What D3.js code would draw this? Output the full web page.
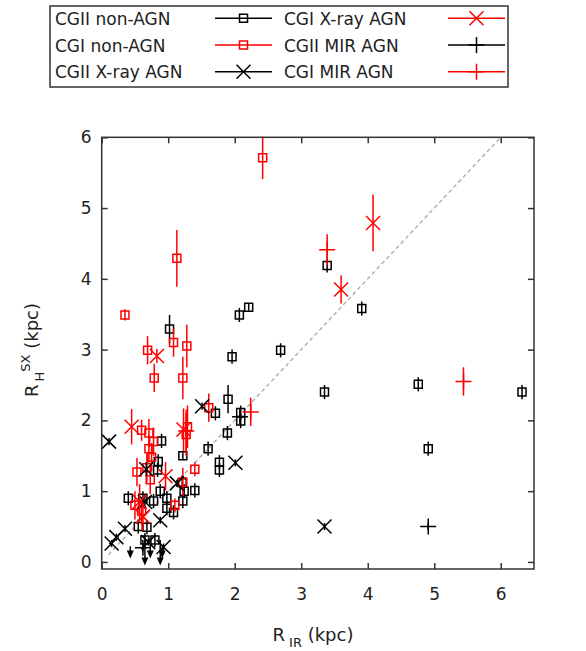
<!DOCTYPE html>
<html><head><meta charset="utf-8">
<script src="https://cdn.jsdelivr.net/npm/d3@7"></script>
<style>body{margin:0;background:#fff}svg{display:block}</style>
</head><body><svg id="c" width="586" height="651"></svg>
<script>
// ---- data ----
const xTicks = [0, 1, 2, 3, 4, 5, 6];
const yTicks = [0, 1, 2, 3, 4, 5, 6];
const seriesNames = ["CGII non-AGN", "CGI non-AGN", "CGII X-ray AGN", "CGI X-ray AGN", "CGII MIR AGN", "CGI MIR AGN"];
// [R_IR, R_H^SX, error]
const cgiiNonAgn = [
  [1.02,3.29,0.2],[2.07,3.49,0.1],[2.21,3.60,0.05],[1.96,2.90,0.1],[2.69,2.99,0.1],
  [3.39,4.19,0.1],[3.91,3.58,0.1],[3.35,2.40,0.1],[4.76,2.51,0.1],[6.32,2.40,0.1],
  [4.91,1.60,0.1],[1.90,2.30,0.2],[1.71,2.10,0.1],[2.09,2.11,0.1],[2.09,1.99,0.1],
  [1.89,1.82,0.1],[1.60,1.60,0.1],[1.22,1.50,0.05],[1.77,1.41,0.1],[1.77,1.30,0.1],
  [1.40,1.01,0.1],[1.24,1.00,0.1],[1.22,0.86,0.1],[0.90,1.71,0.1],[0.85,1.42,0.1],
  [0.84,1.30,0.1],[0.98,0.90,0.1],[0.98,0.76,0.1],[1.08,0.70,0.1],[0.40,0.90,0.1],
  [0.62,0.90,0.1],[0.78,0.86,0.1],[0.55,0.50,0.1],[0.68,0.49,0.1],[0.65,0.31,0.1],
  [0.80,0.31,0.1],[0.88,1.00,0.1],[1.21,1.12,0.1]
];
const cgiNonAgn = [
  [0.35,3.49,0.08],[2.42,5.71,0.3],[1.13,4.29,0.4],[0.69,2.99,0.2],[1.08,3.10,0.2],
  [1.28,3.05,0.3],[0.79,2.60,0.2],[1.22,2.60,0.3],[1.61,2.18,0.2],[0.60,1.86,0.15],
  [0.71,1.82,0.2],[0.78,1.70,0.2],[0.71,1.60,0.2],[0.75,1.48,0.2],[1.29,1.91,0.3],
  [1.27,1.80,0.3],[1.40,1.31,0.1],[0.53,1.27,0.2],[0.73,1.16,0.2],[0.68,1.33,0.2],
  [1.10,0.80,0.1],[1.22,1.13,0.2],[0.50,0.80,0.2],[0.60,0.72,0.2]
];
const cgiiXray = [
  [1.51,2.20,0.05],[2.01,1.40,0.05],[0.11,1.70,0.05],[3.35,0.50,0.05],[0.67,1.31,0.1],
  [1.13,1.11,0.05],[0.65,0.85,0.1],[0.88,0.59,0.05],[0.35,0.47,0.05],[0.22,0.35,0.05],
  [0.15,0.26,0.05],[0.93,0.21,0.05],[0.70,0.28,0.05]
];
const cgiXray = [
  [4.08,4.79,0.4],[3.60,3.85,0.2],[0.83,2.91,0.1],[0.45,1.91,0.25],[1.23,1.87,0.3],
  [0.96,1.21,0.2],[0.57,0.85,0.25],[0.62,0.64,0.2]
];
const cgiiMir = [[4.91,0.50,0.05],[2.08,2.05,0.1],[0.62,0.20,0.05]];
const cgiMir = [[3.39,4.41,0.22],[5.44,2.55,0.2],[2.24,2.12,0.2],[1.27,1.85,0.3]];
// upper limits: [x, y from, y to]
const upperLimits = [[0.43,0.22,0.05],[0.65,0.31,-0.05],[0.73,0.25,0.05],[0.88,0.31,-0.05],[0.91,0.22,0.05]];
const oneToOne = [[0.1,0.1],[6,6]];

// ---- drawing ----
const svg = d3.select("#c");
const W = 586, H = 651;
const x = d3.scaleLinear().domain([0, 6.5]).range([101.7, 534]);
const y = d3.scaleLinear().domain([-0.1, 6]).range([569, 137.3]);
const FONT = "'DejaVu Sans', sans-serif";
const TXT = "#222";

const shapes = {
  square: "M-4,-4h8v8h-8z",
  cross: "M-7,-7L7,7M-7,7L7,-7",
  plus: "M-8,0H8M0,-8V8"
};
const styles = [
  {data: cgiiNonAgn, color: "#000", shape: "square"},
  {data: cgiNonAgn, color: "#f00", shape: "square"},
  {data: cgiiXray, color: "#000", shape: "cross"},
  {data: cgiXray, color: "#f00", shape: "cross"},
  {data: cgiiMir, color: "#000", shape: "plus"},
  {data: cgiMir, color: "#f00", shape: "plus"}
];

// axes (inward ticks, mirrored)
const gx = svg.append("g").attr("transform", `translate(0,${y.range()[0]})`)
  .call(d3.axisBottom(x).tickValues(xTicks).tickSizeInner(-6).tickSizeOuter(0).tickPadding(19).tickFormat(d3.format("d")));
const gy = svg.append("g").attr("transform", `translate(${x.range()[0]},0)`)
  .call(d3.axisLeft(y).tickValues(yTicks).tickSizeInner(-6).tickSizeOuter(0).tickPadding(10).tickFormat(d3.format("d")));
const gx2 = svg.append("g").attr("transform", `translate(0,${y.range()[1]})`)
  .call(d3.axisTop(x).tickValues(xTicks).tickSizeInner(-6).tickSizeOuter(0).tickFormat(""));
const gy2 = svg.append("g").attr("transform", `translate(${x.range()[1]},0)`)
  .call(d3.axisRight(y).tickValues(yTicks).tickSizeInner(-6).tickSizeOuter(0).tickFormat(""));
[gx, gy, gx2, gy2].forEach(g => {
  g.select(".domain").remove();
  g.selectAll(".tick line").attr("stroke", "#333").attr("stroke-width", 1.5);
  g.selectAll(".tick text").attr("fill", TXT).style("font-family", FONT).style("font-size", "17px");
});

// 1:1 line
svg.append("path")
  .attr("d", d3.line().x(d => x(d[0])).y(d => y(d[1]))(oneToOne))
  .attr("stroke", "#a8a8a8").attr("stroke-width", 1.3).attr("stroke-dasharray", "4,3").attr("fill", "none");

// series
styles.forEach(s => {
  const g = svg.append("g").attr("stroke", s.color).attr("fill", "none").attr("stroke-width", 1.5);
  g.selectAll("line.err").data(s.data).join("line").attr("class", "err")
    .attr("x1", d => x(d[0])).attr("x2", d => x(d[0]))
    .attr("y1", d => y(d[1] - d[2])).attr("y2", d => y(d[1] + d[2]));
  g.selectAll("path.mk").data(s.data).join("path").attr("class", "mk")
    .attr("transform", d => `translate(${x(d[0])},${y(d[1])})`)
    .attr("d", shapes[s.shape]);
});

// upper limits (arrows)
const ul = svg.append("g");
ul.selectAll("line").data(upperLimits).join("line")
  .attr("x1", d => x(d[0])).attr("x2", d => x(d[0]))
  .attr("y1", d => y(d[1])).attr("y2", d => y(d[2]) - 5)
  .attr("stroke", "#000").attr("stroke-width", 1.5);
ul.selectAll("path").data(upperLimits).join("path")
  .attr("transform", d => `translate(${x(d[0])},${y(d[2])})`)
  .attr("d", "M0,0L-3.5,-8L3.5,-8Z").attr("fill", "#000");

// frame
svg.append("rect").attr("x", x.range()[0]).attr("y", y.range()[1])
  .attr("width", x.range()[1] - x.range()[0]).attr("height", y.range()[0] - y.range()[1])
  .attr("fill", "none").attr("stroke", "#333").attr("stroke-width", 1.5);

// axis titles
const xt = svg.append("text").attr("x", 313).attr("y", 641).attr("text-anchor", "middle")
  .attr("fill", TXT).style("font-family", FONT).style("font-size", "18px");
xt.append("tspan").text("R");
xt.append("tspan").attr("dx", 4).attr("dy", 6).style("font-size", "13px").text("IR");
xt.append("tspan").attr("dy", -6).text(" (kpc)");

const yt = svg.append("text").attr("transform", "translate(38,350) rotate(-90)").attr("text-anchor", "middle")
  .attr("fill", TXT).style("font-family", FONT).style("font-size", "18px");
yt.append("tspan").text("R");
yt.append("tspan").attr("dx", 3).attr("dy", 6).style("font-size", "13px").text("H");
yt.append("tspan").attr("dy", -14).style("font-size", "13px").text("SX");
yt.append("tspan").attr("dy", 8).text(" (kpc)");

// legend
svg.append("rect").attr("x", 50).attr("y", 6).attr("width", 458).attr("height", 81)
  .attr("fill", "#fff").attr("stroke", "#333").attr("stroke-width", 1.5);
const legPos = [
  {tx: 55, lx1: 215, lx2: 272, cy: 18.3},
  {tx: 55, lx1: 215, lx2: 272, cy: 45},
  {tx: 55, lx1: 215, lx2: 272, cy: 71.7},
  {tx: 284, lx1: 448, lx2: 505, cy: 18.3},
  {tx: 284, lx1: 448, lx2: 505, cy: 45},
  {tx: 284, lx1: 448, lx2: 505, cy: 71.7}
];
seriesNames.forEach((name, i) => {
  const p = legPos[i], s = styles[i];
  svg.append("text").attr("x", p.tx).attr("y", p.cy + 6.5).attr("fill", TXT)
    .style("font-family", FONT).style("font-size", "17px").text(name);
  svg.append("line").attr("x1", p.lx1).attr("x2", p.lx2).attr("y1", p.cy).attr("y2", p.cy)
    .attr("stroke", s.color).attr("stroke-width", 1.5);
  svg.append("path").attr("transform", `translate(${(p.lx1 + p.lx2) / 2},${p.cy})`)
    .attr("d", shapes[s.shape]).attr("fill", "none").attr("stroke", s.color).attr("stroke-width", 1.5);
});
</script></body></html>
